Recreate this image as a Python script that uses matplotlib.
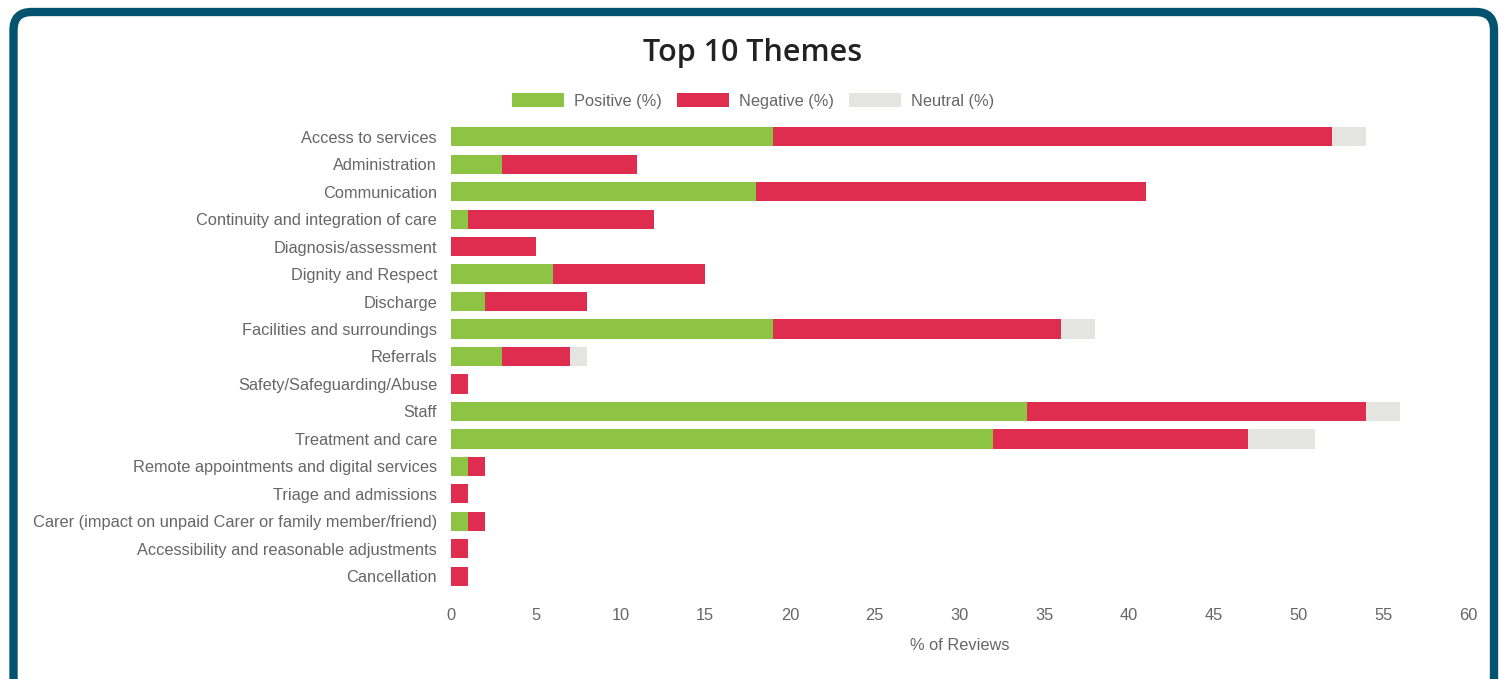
import matplotlib
matplotlib.use("Agg")
import matplotlib.pyplot as plt
from matplotlib.patches import FancyBboxPatch, Patch
import numpy as np

# Data
themes = [
    "Access to services",
    "Administration",
    "Communication",
    "Continuity and integration of care",
    "Diagnosis/assessment",
    "Dignity and Respect",
    "Discharge",
    "Facilities and surroundings",
    "Referrals",
    "Safety/Safeguarding/Abuse",
    "Staff",
    "Treatment and care",
    "Remote appointments and digital services",
    "Triage and admissions",
    "Carer (impact on unpaid Carer or family member/friend)",
    "Accessibility and reasonable adjustments",
    "Cancellation",
]
positive = [19, 3, 18, 1, 0, 6, 2, 19, 3, 0, 34, 32, 1, 0, 1, 0, 0]
negative = [33, 8, 23, 11, 5, 9, 6, 17, 4, 1, 20, 15, 1, 1, 1, 1, 1]
neutral = [2, 0, 0, 0, 0, 0, 0, 2, 1, 0, 2, 4, 0, 0, 0, 0, 0]

GREEN = "#8dc444"
RED = "#de2d4f"
GREY = "#e4e4e0"
LABEL = "#666666"
FS = 11.8

W, H = 1504, 679
fig = plt.figure(figsize=(W / 100, H / 100), dpi=100)

# rounded teal frame (bottom edge runs off the image)
frame = FancyBboxPatch((13.5 / W, -30 / H), (1494 - 13.5) / W, (667 + 30) / H,
                       boxstyle="round,pad=0,rounding_size=0.012",
                       transform=fig.transFigure, facecolor="white",
                       edgecolor="#03536e", linewidth=6, zorder=-10,
                       mutation_aspect=W / H)
fig.patches.append(frame)

ax = fig.add_axes([451 / W, 1 - 590 / H, (1468 - 451) / W, (590 - 123) / H])
ax.set_facecolor("none")
ax.set_zorder(5)

y = np.arange(len(themes))
pos = np.array(positive)
neg = np.array(negative)
neu = np.array(neutral)
h = 0.7
ax.barh(y, pos, height=h, color=GREEN, label="Positive (%)")
ax.barh(y, neg, left=pos, height=h, color=RED, label="Negative (%)")
ax.barh(y, neu, left=pos + neg, height=h, color=GREY, label="Neutral (%)")

ax.set_ylim(len(themes) - 0.5, -0.5)
ax.set_xlim(0, 60)
ax.set_xticks(np.arange(0, 61, 5))
ax.set_yticks(y)
ax.set_yticklabels(themes)
for s in ax.spines.values():
    s.set_visible(False)
ax.tick_params(axis="y", length=0, pad=10, labelsize=FS, labelcolor=LABEL)
ax.tick_params(axis="x", length=0, pad=13, labelsize=FS, labelcolor=LABEL)
for t in ax.get_xticklabels() + ax.get_yticklabels():
    t.set_fontfamily("Liberation Sans")
ax.set_xlabel("% of Reviews", fontsize=FS, color=LABEL,
              fontfamily="Liberation Sans", labelpad=11)

fig.text(753 / W, 1 - 53 / H, "Top 10 Themes", ha="center", va="center",
         fontsize=22, fontfamily="Open Sans", fontweight="semibold",
         color="#222222")

handles = [Patch(facecolor=GREEN), Patch(facecolor=RED), Patch(facecolor=GREY)]
fig.legend(handles, ["Positive (%)", "Negative (%)", "Neutral (%)"],
           loc="center", bbox_to_anchor=(753 / W, 1 - 101 / H), ncol=3,
           frameon=False, handlelength=3.2, handleheight=0.9,
           handletextpad=0.6, columnspacing=0.9,
           prop={"family": "Liberation Sans", "size": FS}, labelcolor=LABEL)

fig.savefig("out.png", dpi=100)
